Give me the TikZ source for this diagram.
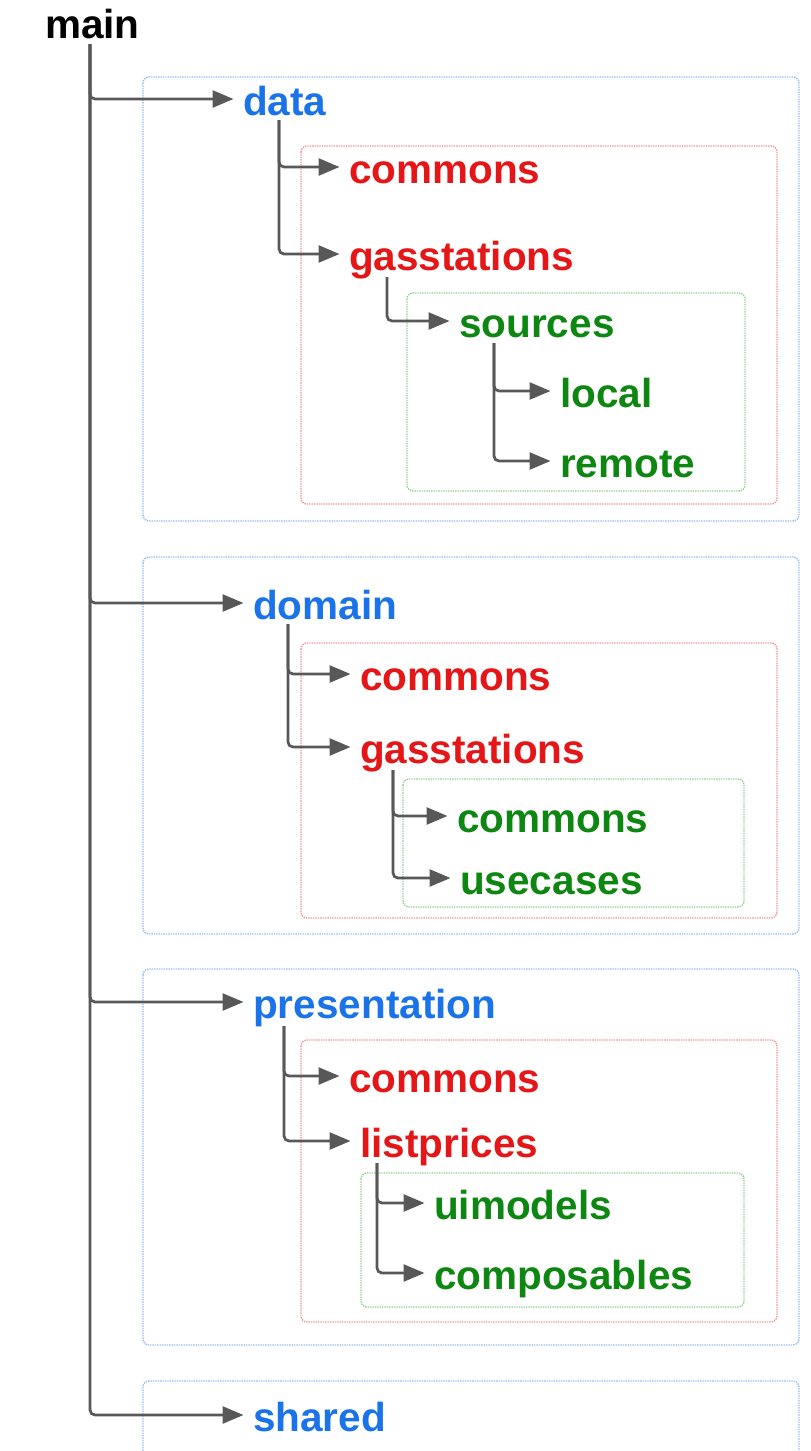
\documentclass[tikz,border=0pt]{standalone}
\usepackage{fontspec}
\setmainfont{Liberation Sans}
\usetikzlibrary{arrows.meta}
\usepackage{xcolor}

\definecolor{pkgblue}{RGB}{26,115,232}
\definecolor{pkgred}{RGB}{228,22,24}
\definecolor{pkggreen}{RGB}{14,134,18}
\definecolor{edgeblue}{RGB}{150,188,238}
\definecolor{edgered}{RGB}{242,150,150}
\definecolor{edgegreen}{RGB}{150,206,150}
\definecolor{linkgray}{RGB}{88,88,88}

\tikzset{
  dir/.style={font=\fontsize{40.5}{48}\selectfont\bfseries, inner sep=0pt,
    text height=32pt, text depth=0pt, anchor=west},
  modname/.style={dir, text=pkgblue},
  layername/.style={dir, text=pkgred},
  leafname/.style={dir, text=pkggreen},
  modbox/.style={draw=edgeblue, line width=1.4pt, densely dotted, rounded corners=6pt},
  layerbox/.style={draw=edgered, line width=1.4pt, densely dotted, rounded corners=6pt},
  leafbox/.style={draw=edgegreen, line width=1.4pt, densely dotted, rounded corners=6pt},
  link/.style={draw=linkgray, line width=2.7pt, rounded corners=5pt,
    -{Triangle[length=21pt,width=17pt]}, shorten >=9.5pt}
}

\begin{document}
\begin{tikzpicture}[x=1pt,y=-1pt]
  \useasboundingbox (0,0) rectangle (811,1451);

  % frames
  \draw[modbox] (143,77) rectangle (799,521);
  \draw[modbox] (143,557) rectangle (799,934);
  \draw[modbox] (143,969) rectangle (799,1345);
  \draw[modbox] (143,1381) rectangle (799,1490);

  \draw[layerbox] (301,146) rectangle (777,504);
  \draw[layerbox] (301,643) rectangle (777,918);
  \draw[layerbox] (301,1040) rectangle (777,1322);

  \draw[leafbox] (407,293) rectangle (745,491);
  \draw[leafbox] (403,779) rectangle (744,907);
  \draw[leafbox] (361,1173) rectangle (744,1307);

  % folders
  \node[dir] (main) at (45,22) {main};

  \node[modname] (data) at (243,99) {data};
  \node[layername] (datacommons) at (349,167) {commons};
  \node[layername] (datagas) at (349,254) {gasstations};
  \node[leafname] (sources) at (459,321) {sources};
  \node[leafname] (local) at (560,391) {local};
  \node[leafname] (remote) at (560,461) {remote};

  \node[modname] (domain) at (253,603) {domain};
  \node[layername] (domcommons) at (360,674) {commons};
  \node[layername] (domgas) at (360,747) {gasstations};
  \node[leafname] (gascommons) at (457,816) {commons};
  \node[leafname] (usecases) at (460,878) {usecases};

  \node[modname] (presentation) at (253,1002) {presentation};
  \node[layername] (prescommons) at (349,1076) {commons};
  \node[layername] (listprices) at (360,1141) {listprices};
  \node[leafname] (uimodels) at (434,1203) {uimodels};
  \node[leafname] (composables) at (434,1273) {composables};

  \node[modname] (shared) at (253,1415) {shared};

  % links
  \foreach \m in {data,domain,presentation,shared}
    \draw[link] ([xshift=45pt,yshift=-6pt]main.south west) |- (\m.west);

  \foreach \c in {datacommons,datagas}
    \draw[link] ([xshift=36pt,yshift=-5pt]data.south west) |- (\c.west);
  \draw[link] ([xshift=38pt,yshift=-7pt]datagas.south west) |- (sources.west);
  \foreach \c in {local,remote}
    \draw[link] ([xshift=35pt,yshift=-6pt]sources.south west) |- (\c.west);

  \foreach \c in {domcommons,domgas}
    \draw[link] ([xshift=35pt,yshift=-5pt]domain.south west) |- (\c.west);
  \foreach \c in {gascommons,usecases}
    \draw[link] ([xshift=33pt,yshift=-7pt]domgas.south west) |- (\c.west);

  \foreach \c in {prescommons,listprices}
    \draw[link] ([xshift=31pt,yshift=-8pt]presentation.south west) |- (\c.west);
  \foreach \c in {uimodels,composables}
    \draw[link] ([xshift=17pt,yshift=-6pt]listprices.south west) |- (\c.west);
\end{tikzpicture}
\end{document}
